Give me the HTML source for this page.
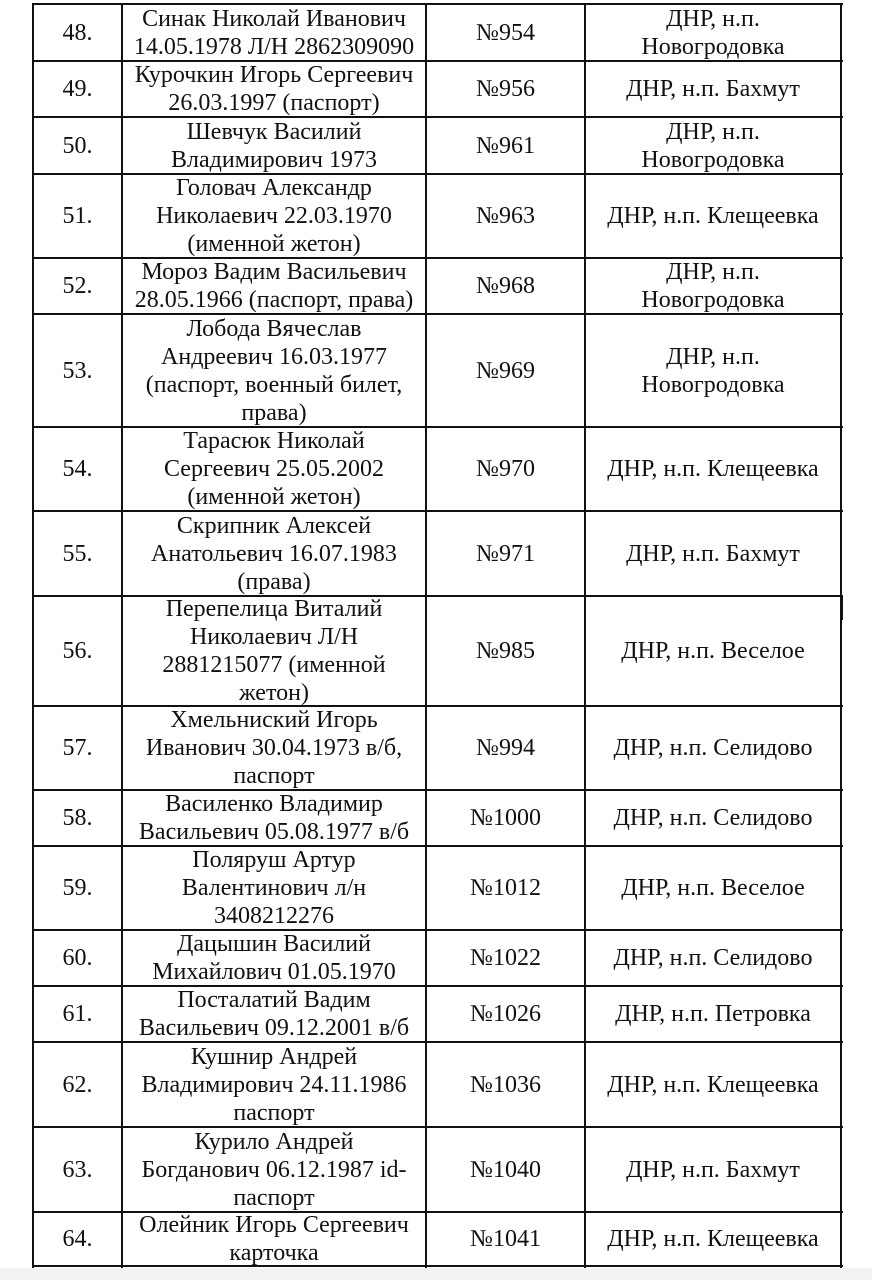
<!DOCTYPE html>
<html><head><meta charset="utf-8"><style>
html,body{margin:0;padding:0;background:#fff;width:872px;height:1280px;overflow:hidden}
body{position:relative;font-family:"Liberation Serif","Noto Serif CJK SC",serif;font-size:24px;line-height:28px;color:#111}
.bot{position:absolute;left:0;top:1268px;width:872px;height:12px;background:#f2f2f2}
.c{position:absolute;display:flex;align-items:center;justify-content:center;text-align:center;white-space:nowrap}
.h{position:absolute;left:32px;width:811px;height:2px;background:#111}
.v{position:absolute;top:3px;width:2px;height:1265px;background:#111}
.vbar{position:absolute;left:841px;top:596px;width:2px;height:24px;background:#111}
</style></head><body>
<div class="bot"></div>
<div id="t"></div>
<div class="vbar"></div>
<script>
var B=[4,61,117,174,258,314,427,511,596,706,790,846,930,986,1042,1127,1212,1266];
var R=[
["48.","Синак Николай Иванович<br>14.05.1978 Л/Н 2862309090","№954","ДНР, н.п.<br>Новогродовка"],
["49.","Курочкин Игорь Сергеевич<br>26.03.1997 (паспорт)","№956","ДНР, н.п. Бахмут"],
["50.","Шевчук Василий<br>Владимирович 1973","№961","ДНР, н.п.<br>Новогродовка"],
["51.","Головач Александр<br>Николаевич 22.03.1970<br>(именной жетон)","№963","ДНР, н.п. Клещеевка"],
["52.","Мороз Вадим Васильевич<br>28.05.1966 (паспорт, права)","№968","ДНР, н.п.<br>Новогродовка"],
["53.","Лобода Вячеслав<br>Андреевич 16.03.1977<br>(паспорт, военный билет,<br>права)","№969","ДНР, н.п.<br>Новогродовка"],
["54.","Тарасюк Николай<br>Сергеевич 25.05.2002<br>(именной жетон)","№970","ДНР, н.п. Клещеевка"],
["55.","Скрипник Алексей<br>Анатольевич 16.07.1983<br>(права)","№971","ДНР, н.п. Бахмут"],
["56.","Перепелица Виталий<br>Николаевич Л/Н<br>2881215077 (именной<br>жетон)","№985","ДНР, н.п. Веселое"],
["57.","Хмельниский Игорь<br>Иванович 30.04.1973 в/б,<br>паспорт","№994","ДНР, н.п. Селидово"],
["58.","Василенко Владимир<br>Васильевич 05.08.1977 в/б","№1000","ДНР, н.п. Селидово"],
["59.","Поляруш Артур<br>Валентинович л/н<br>3408212276","№1012","ДНР, н.п. Веселое"],
["60.","Дацышин Василий<br>Михайлович 01.05.1970","№1022","ДНР, н.п. Селидово"],
["61.","Посталатий Вадим<br>Васильевич 09.12.2001 в/б","№1026","ДНР, н.п. Петровка"],
["62.","Кушнир Андрей<br>Владимирович 24.11.1986<br>паспорт","№1036","ДНР, н.п. Клещеевка"],
["63.","Курило Андрей<br>Богданович 06.12.1987 id-<br>паспорт","№1040","ДНР, н.п. Бахмут"],
["64.","Олейник Игорь Сергеевич<br>карточка","№1041","ДНР, н.п. Клещеевка"]];
var X=[33,122,426,585,841];
var h="";
for(var i=0;i<B.length;i++)h+='<div class="h" style="top:'+(B[i]-1)+'px"></div>';
for(var j=0;j<X.length;j++)h+='<div class="v" style="left:'+(X[j]-1)+'px"></div>';
for(var r=0;r<R.length;r++)for(var k=0;k<4;k++)
h+='<div class="c" style="left:'+X[k]+'px;width:'+(X[k+1]-X[k])+'px;top:'+B[r]+'px;height:'+(B[r+1]-B[r])+'px">'+R[r][k]+'</div>';
document.getElementById("t").innerHTML=h;
</script>
</body></html>
